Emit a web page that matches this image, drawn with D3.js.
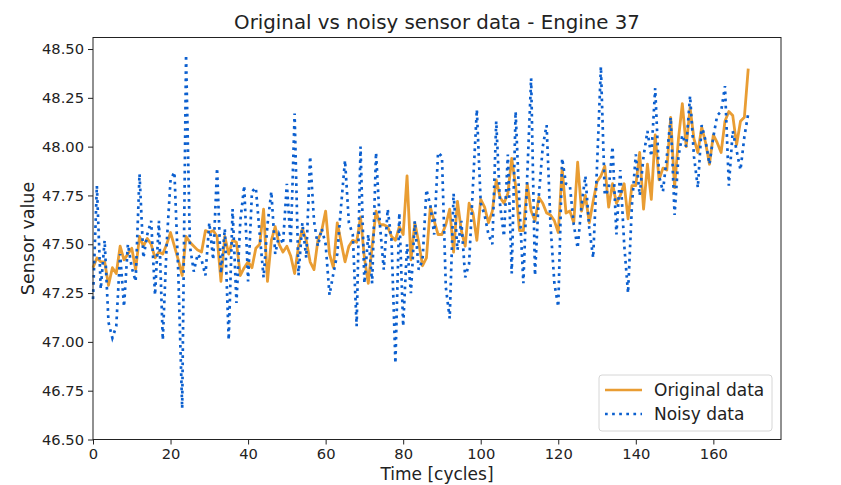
<!DOCTYPE html>
<html>
<head>
    <meta charset="utf-8">
    <title>Original vs noisy sensor data</title>
    <script src="https://cdn.jsdelivr.net/npm/d3@7"></script>
    <style>
        body{ margin:0; background:#fff; }
        svg{ display:block; font-family:"DejaVu Sans", sans-serif; }
    </style>
</head>
<body>
<svg width="841" height="485"></svg>
<script>
// cycles 0..169 are the x values
var original = [
    47.38, 47.43, 47.41, 47.41, 47.29, 47.38, 47.35, 47.49, 47.42, 47.45,
    47.48, 47.37, 47.54, 47.49, 47.53, 47.50, 47.43, 47.46, 47.45, 47.50,
    47.56, 47.49, 47.42, 47.34, 47.54, 47.51, 47.49, 47.47, 47.46, 47.57,
    47.56, 47.57, 47.54, 47.31, 47.54, 47.45, 47.52, 47.51, 47.34, 47.38,
    47.41, 47.38, 47.48, 47.50, 47.68, 47.31, 47.52, 47.59, 47.50, 47.46,
    47.49, 47.44, 47.35, 47.49, 47.58, 47.52, 47.41, 47.37, 47.52, 47.57,
    47.67, 47.45, 47.38, 47.61, 47.51, 47.41, 47.49, 47.52, 47.51, 47.64,
    47.43, 47.30, 47.49, 47.67, 47.60, 47.60, 47.59, 47.54, 47.52, 47.59,
    47.55, 47.85, 47.42, 47.61, 47.51, 47.39, 47.43, 47.69, 47.62, 47.55,
    47.55, 47.60, 47.68, 47.46, 47.72, 47.57, 47.49, 47.71, 47.66, 47.52,
    47.73, 47.69, 47.61, 47.67, 47.83, 47.74, 47.71, 47.76, 47.94, 47.80,
    47.57, 47.57, 47.81, 47.67, 47.62, 47.74, 47.71, 47.66, 47.65, 47.62,
    47.56, 47.89, 47.66, 47.67, 47.61, 47.92, 47.67, 47.75, 47.61, 47.72,
    47.82, 47.85, 47.90, 47.69, 47.81, 47.71, 47.75, 47.81, 47.63, 47.80,
    47.80, 47.97, 47.68, 47.91, 47.73, 48.06, 47.83, 47.89, 47.88, 48.15,
    47.79, 48.04, 48.22, 48.00, 48.20, 48.04, 47.97, 48.10, 48.02, 47.91,
    48.06, 48.02, 47.97, 48.13, 48.18, 48.16, 48.01, 48.13, 48.15, 48.40
];
var noisy = [
    47.22, 47.80, 47.27, 47.52, 47.10, 47.02, 47.08, 47.45, 47.18, 47.50,
    47.38, 47.31, 47.86, 47.43, 47.55, 47.62, 47.24, 47.62, 47.01, 47.50,
    47.83, 47.87, 47.35, 46.66, 48.47, 47.49, 47.36, 47.45, 47.42, 47.34,
    47.61, 47.42, 47.89, 47.35, 47.58, 47.01, 47.68, 47.20, 47.62, 47.80,
    47.31, 47.77, 47.79, 47.55, 47.33, 47.60, 47.77, 47.45, 47.55, 47.50,
    47.81, 47.50, 48.17, 47.34, 47.61, 47.43, 47.95, 47.62, 47.49, 47.58,
    47.50, 47.24, 47.35, 47.45, 47.70, 47.93, 47.61, 47.55, 47.08, 48.00,
    47.30, 47.55, 47.30, 47.97, 47.60, 47.37, 47.68, 47.52, 46.89, 47.66,
    47.08, 47.50, 47.25, 47.62, 47.37, 47.42, 47.78, 47.70, 47.55, 47.97,
    47.95, 47.28, 47.12, 47.76, 47.47, 47.62, 47.33, 47.40, 47.80, 48.19,
    47.71, 47.65, 47.55, 47.50, 48.13, 47.70, 47.54, 47.96, 47.35, 48.18,
    47.70, 47.30, 47.85, 48.35, 47.34, 47.75, 48.00, 48.11, 47.60, 47.30,
    47.18, 47.94, 47.81, 47.80, 47.60, 47.48, 47.70, 47.85, 47.58, 47.43,
    47.90, 48.41, 47.75, 47.78, 48.00, 47.55, 47.88, 47.50, 47.25, 47.70,
    47.96, 47.75, 47.95, 48.08, 47.95, 48.30, 47.85, 47.77, 47.95, 48.15,
    47.65, 47.95, 48.06, 48.00, 48.26, 47.95, 47.79, 48.11, 48.03, 47.91,
    48.05, 48.16, 48.18, 48.31, 47.80, 48.08, 47.98, 47.88, 48.05, 48.17
];
var xTicks = [0, 20, 40, 60, 80, 100, 120, 140, 160];
var yTicks = [46.50, 46.75, 47.00, 47.25, 47.50, 47.75, 48.00, 48.25, 48.50];
var seriesNames = ["Original data", "Noisy data"];

var svg = d3.select("svg");
var plotLeft = 93, plotRight = 781, plotTop = 37.5, plotBottom = 439.5;
var orange = "#e99d33", blue = "#0b5fcf";

var x = d3.scaleLinear()
    .domain([0, (original.length - 1) * 1.05])
    .range([plotLeft, plotRight]);
var y = d3.scaleLinear()
    .domain([46.5, 48.559])
    .range([plotBottom, plotTop]);

var line = d3.line()
    .x(function(d, i) { return x(i); })
    .y(function(d) { return y(d); });

var plot = svg.append("g");
plot.append("path")
    .datum(original)
    .attr("d", line)
    .attr("fill", "none")
    .attr("stroke", orange)
    .attr("stroke-width", 2.8)
    .attr("stroke-linejoin", "round");
plot.append("path")
    .datum(noisy)
    .attr("d", line)
    .attr("fill", "none")
    .attr("stroke", blue)
    .attr("stroke-width", 2.7)
    .attr("stroke-dasharray", "2.7,4.4");

// axes
var xAxis = d3.axisBottom(x).tickValues(xTicks).tickSize(5).tickPadding(4)
    .tickFormat(d3.format("d"));
var yAxis = d3.axisLeft(y).tickValues(yTicks).tickSize(5).tickPadding(4)
    .tickFormat(d3.format(".2f"));

var gx = svg.append("g").attr("transform", "translate(0," + plotBottom + ")").call(xAxis);
var gy = svg.append("g").attr("transform", "translate(" + plotLeft + ",0)").call(yAxis);
[gx, gy].forEach(function(g) {
    g.select(".domain").remove();
    g.selectAll(".tick line").attr("stroke", "#222").attr("stroke-width", 1);
    g.selectAll(".tick text").attr("fill", "#222").style("font-size", "14.7px")
        .style("font-family", "DejaVu Sans, sans-serif");
});

// frame
svg.append("rect")
    .attr("x", plotLeft).attr("y", plotTop)
    .attr("width", plotRight - plotLeft).attr("height", plotBottom - plotTop)
    .attr("fill", "none").attr("stroke", "#222").attr("stroke-width", 1);

// titles
svg.append("text")
    .attr("x", (plotLeft + plotRight) / 2).attr("y", 29)
    .attr("text-anchor", "middle")
    .style("font-size", "19.8px").attr("fill", "#222")
    .text("Original vs noisy sensor data - Engine 37");
svg.append("text")
    .attr("x", (plotLeft + plotRight) / 2).attr("y", 480)
    .attr("text-anchor", "middle")
    .style("font-size", "17px").attr("fill", "#222")
    .text("Time [cycles]");
svg.append("text")
    .attr("transform", "translate(34," + (plotTop + plotBottom) / 2 + ") rotate(-90)")
    .attr("text-anchor", "middle")
    .style("font-size", "17.5px").attr("fill", "#222")
    .text("Sensor value");

// legend
var legend = svg.append("g").attr("transform", "translate(599,375)");
legend.append("rect")
    .attr("width", 173).attr("height", 56)
    .attr("rx", 3)
    .attr("fill", "rgba(255,255,255,0.85)")
    .attr("stroke", "#d6d6d6");
var styles = [{ color: orange, dash: null }, { color: blue, dash: "2.7,4.4" }];
seriesNames.forEach(function(name, i) {
    var ly = 15 + i * 24;
    legend.append("line")
        .attr("x1", 6).attr("x2", 43)
        .attr("y1", ly).attr("y2", ly)
        .attr("stroke", styles[i].color)
        .attr("stroke-width", 2.7)
        .attr("stroke-dasharray", styles[i].dash);
    legend.append("text")
        .attr("x", 55).attr("y", ly + 6)
        .style("font-size", "17px").attr("fill", "#222")
        .text(name);
});
</script>
</body>
</html>
